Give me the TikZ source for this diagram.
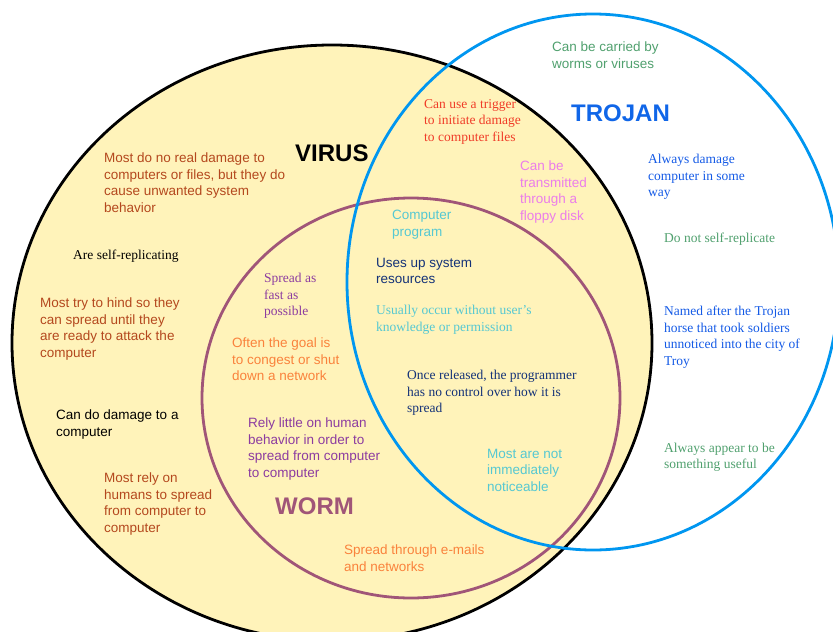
\documentclass[tikz,border=0pt]{standalone}
\usepackage{fontspec}
\setmainfont{Liberation Serif}
\setsansfont{Liberation Sans}
\definecolor{virY}{RGB}{255,243,186}
\definecolor{wormC}{RGB}{160,85,120}
\definecolor{trojC}{RGB}{0,150,240}
\definecolor{brn}{RGB}{180,72,30}
\definecolor{redT}{RGB}{240,60,40}
\definecolor{pinkT}{RGB}{235,125,235}
\definecolor{grnT}{RGB}{80,160,110}
\definecolor{bluT}{RGB}{20,90,230}
\definecolor{cyanT}{RGB}{85,200,210}
\definecolor{navyT}{RGB}{20,50,120}
\definecolor{purT}{RGB}{140,60,160}
\definecolor{orgT}{RGB}{250,130,60}
\tikzset{
  virset/.style={fill=virY,draw=black,line width=2.8pt},   % VIRUS set
  wormset/.style={draw=wormC,line width=2.8pt},            % WORM set
  trojset/.style={draw=trojC,line width=2.8pt},            % TROJAN set
  sf/.style={anchor=north west,inner sep=0pt,align=left,font=\sffamily\fontsize{13.5}{16.5}\selectfont},
  rm/.style={anchor=north west,inner sep=0pt,align=left,font=\rmfamily\fontsize{13.5}{16.5}\selectfont},
  ttl/.style={anchor=north west,inner sep=0pt,font=\sffamily\bfseries\fontsize{24}{24}\selectfont},
}
\begin{document}
\begin{tikzpicture}[x=1pt,y=-1pt]
  \useasboundingbox (0,0) rectangle (833,632);
  \clip (0,0) rectangle (833,632);
  % the three sets
  \draw[virset] (332,343) ellipse [x radius=320pt,y radius=298pt];
  \draw[wormset] (411,398) ellipse [x radius=209pt,y radius=200pt];
  \draw[trojset] (593,282) ellipse [x radius=246pt,y radius=268pt];
  % titles
  \node[ttl] (virus) at (295,145) {VIRUS};
  \node[ttl,text=bluT!80!trojC] (trojan) at (571,105) {TROJAN};
  \node[ttl,text=wormC] (worm) at (275,498) {WORM};
  % virus only
  \node[sf,text=brn] (v1) at (104,153) {Most do no real damage to\\computers or files, but they do\\cause unwanted system\\behavior};
  \node[rm] (v2) at (73,250) {Are self-replicating};
  \node[sf,text=brn] (v3) at (40,298) {Most try to hind so they\\can spread until they\\are ready to attack the\\computer};
  \node[sf] (v4) at (56,410) {Can do damage to a\\computer};
  \node[sf,text=brn] (v5) at (104,473) {Most rely on\\humans to spread\\from computer to\\computer};
  % virus and worm
  \node[rm,text=purT] (w1) at (264,273) {Spread as\\fast as\\possible};
  \node[sf,text=orgT] (w2) at (232,338) {Often the goal is\\to congest or shut\\down a network};
  \node[sf,text=purT] (w3) at (248,418) {Rely little on human\\behavior in order to\\spread from computer\\to computer};
  \node[sf,text=orgT] (w4) at (344,545) {Spread through e-mails\\and networks};
  % all three
  \node[sf,text=cyanT] (a1) at (392,210) {Computer\\program};
  \node[sf,text=navyT] (a2) at (376,258) {Uses up system\\resources};
  \node[rm,text=cyanT] (a3) at (376,305) {Usually occur without user’s\\knowledge or permission};
  \node[rm,text=navyT] (a4) at (407,370) {Once released, the programmer\\has no control over how it is\\spread};
  \node[sf,text=cyanT] (a5) at (487,449) {Most are not\\immediately\\noticeable};
  % virus and trojan
  \node[rm,text=redT] (vt1) at (424,99) {Can use a trigger\\to initiate damage\\to computer files};
  \node[sf,text=pinkT] (vt2) at (520,161) {Can be\\transmitted\\through a\\floppy disk};
  % trojan only
  \node[sf,text=grnT] (t1) at (552,42) {Can be carried by\\worms or viruses};
  \node[rm,text=bluT] (t2) at (648,154) {Always damage\\computer in some\\way};
  \node[rm,text=grnT] (t3) at (664,233) {Do not self-replicate};
  \node[rm,text=bluT] (t4) at (664,306) {Named after the Trojan\\horse that took soldiers\\unnoticed into the city of\\Troy};
  \node[rm,text=grnT,font=\rmfamily\fontsize{13.5}{15.5}\selectfont] (t5) at (664,443) {Always appear to be\\something useful};
\end{tikzpicture}
\end{document}
